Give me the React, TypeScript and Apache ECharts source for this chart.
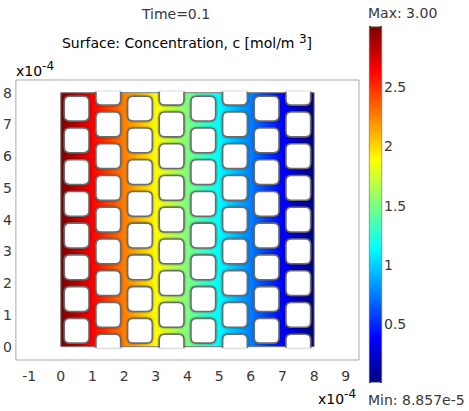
import React, { useEffect, useRef } from "react";
import * as echarts from "echarts";

// ---- texts ----
const titleLine1 = "Time=0.1";
const titleLine2 = "Surface: Concentration, c [mol/m ";
const titleSup = "3";
const scaleBase = "x10";
const scaleExp = "-4";
const maxLabel = "Max: 3.00";
const minLabel = "Min: 8.857e-5";

// ---- data ----
const cMax = 3.0;
// concentration profile across x (units of 1e-4 m)
const profileX = [0, 1, 2, 3, 4, 5, 6, 7, 8];
const profileC = [3.0, 2.63, 2.25, 1.88, 1.5, 1.12, 0.75, 0.37, 0.0001];
// geometry extents (units of 1e-4 m)
const domainX = [0, 8];
const domainY = [0, 8];
// hole centres: odd columns / even columns
const holeColsA = [0.5, 2.5, 4.5, 6.5];
const holeRowsA = [0.5, 1.5, 2.5, 3.5, 4.5, 5.5, 6.5, 7.5];
const holeColsB = [1.5, 3.5, 5.5, 7.5];
const holeRowsB = [0, 1, 2, 3, 4, 5, 6, 7, 8];
// colour bar tick labels
const colorbarTicks = [0.5, 1, 1.5, 2, 2.5];

// jet-like rainbow palette (low -> high)
const jetColors = ["#00007f", "#0000ff", "#007fff", "#00ffff", "#7fff7f", "#ffff00", "#ff7f00", "#ff0000", "#7f0000"];

const HOLE_W = 0.78;
const HOLE_H = 0.78;
const HOLE_R = 0.17;
const FONT = "DejaVu Sans";
const TEXT = "#383838";

function jet(v: number) {
  const t = Math.max(0, Math.min(1, v / cMax));
  return echarts.color.lerp(t, jetColors) as string;
}

function f(n: number) {
  return n.toFixed(2);
}

export default function App() {
  const ref = useRef<HTMLDivElement>(null);
  useEffect(() => {
    if (!ref.current) return;
    const chart = echarts.init(ref.current, undefined, { renderer: "svg" });

    const holes: number[][] = [];
    holeColsA.forEach((x) => holeRowsA.forEach((y) => holes.push([x, y])));
    holeColsB.forEach((x) => holeRowsB.forEach((y) => holes.push([x, y])));

    const intLabel = (v: number) => (Math.abs(v - Math.round(v)) < 1e-6 ? String(Math.round(v)) : "");

    const option: any = {
      animation: false,
      backgroundColor: "#ffffff",
      grid: [
        { left: 15, top: 80, width: 344, height: 280, show: true, borderColor: "#a9a9a9", borderWidth: 1, backgroundColor: "transparent" },
        { left: 369, top: 26.5, width: 13, height: 356, show: false },
      ],
      xAxis: [
        {
          type: "value", gridIndex: 0, min: -1.417, max: 9.417, splitNumber: 10,
          axisLine: { show: false }, axisTick: { show: false }, splitLine: { show: false },
          axisLabel: { formatter: intLabel, margin: 9, fontFamily: FONT, fontSize: 14, color: TEXT },
        },
        { type: "category", gridIndex: 1, data: [""], show: false },
      ],
      yAxis: [
        {
          type: "value", gridIndex: 0, min: -0.42, max: 8.4, splitNumber: 9,
          axisLine: { show: false }, axisTick: { show: false }, splitLine: { show: false },
          axisLabel: { formatter: intLabel, margin: 4, fontFamily: FONT, fontSize: 14, color: TEXT },
        },
        {
          type: "value", gridIndex: 1, min: 0, max: 3, interval: 0.5, position: "right",
          axisLine: { show: false }, splitLine: { show: false },
          axisTick: { show: true, inside: true, length: 2, lineStyle: { color: "#333", width: 1 } },
          axisLabel: {
            margin: 2, fontFamily: FONT, fontSize: 14, color: TEXT,
            formatter: (v: number) => (colorbarTicks.some((t) => Math.abs(t - v) < 1e-6) ? String(v) : ""),
            verticalAlign: "top", padding: [-6, 0, 0, 0],
          },
        },
        {
          type: "value", gridIndex: 1, min: 0, max: 3, interval: 0.5, position: "left",
          axisLine: { show: false }, splitLine: { show: false }, axisLabel: { show: false },
          axisTick: { show: true, inside: true, length: 2, lineStyle: { color: "#333", width: 1 } },
        },
      ],
      series: [
        {
          type: "custom", xAxisIndex: 0, yAxisIndex: 0, z: 2,
          data: [[domainX[0], domainY[0], domainX[1], domainY[1]]],
          renderItem: (params: any, api: any) => {
            const tl = api.coord([api.value(0), api.value(3)]);
            const br = api.coord([api.value(2), api.value(1)]);
            const xl = api.coord([profileX[0], 0])[0];
            const xr = api.coord([profileX[profileX.length - 1], 0])[0];
            const span = xr - xl;
            const stops = profileX.map((x, i) => ({
              offset: (api.coord([x, 0])[0] - xl) / span,
              color: jet(profileC[i]),
            }));
            return {
              type: "rect",
              shape: { x: tl[0], y: tl[1], width: br[0] - tl[0], height: br[1] - tl[1] },
              style: {
                fill: new echarts.graphic.LinearGradient(xl, 0, xr, 0, stops, true),
                stroke: "#7a7a7a", lineWidth: 1,
              },
            };
          },
        },
        {
          type: "custom", xAxisIndex: 0, yAxisIndex: 0, z: 3,
          data: holes,
          renderItem: (params: any, api: any) => {
            const cx = api.value(0), cy = api.value(1);
            const x0 = cx - HOLE_W / 2, x1 = cx + HOLE_W / 2;
            const y0 = cy - HOLE_H / 2, y1 = cy + HOLE_H / 2;
            const topOpen = y1 > domainY[1];
            const botOpen = y0 < domainY[0];
            const L = api.coord([x0, 0])[0];
            const R = api.coord([x1, 0])[0];
            let T = api.coord([0, y1])[1];
            let B = api.coord([0, y0])[1];
            if (topOpen) T = api.coord([0, domainY[1]])[1] - 1;
            if (botOpen) B = api.coord([0, domainY[0]])[1] + 1;
            const r = api.size([HOLE_R, 0])[0];
            let d: string;
            if (topOpen) {
              d = `M${f(L)},${f(T)} L${f(L)},${f(B - r)} Q${f(L)},${f(B)} ${f(L + r)},${f(B)} L${f(R - r)},${f(B)} Q${f(R)},${f(B)} ${f(R)},${f(B - r)} L${f(R)},${f(T)}`;
            } else if (botOpen) {
              d = `M${f(L)},${f(B)} L${f(L)},${f(T + r)} Q${f(L)},${f(T)} ${f(L + r)},${f(T)} L${f(R - r)},${f(T)} Q${f(R)},${f(T)} ${f(R)},${f(T + r)} L${f(R)},${f(B)}`;
            } else {
              d = `M${f(L + r)},${f(T)} L${f(R - r)},${f(T)} Q${f(R)},${f(T)} ${f(R)},${f(T + r)} L${f(R)},${f(B - r)} Q${f(R)},${f(B)} ${f(R - r)},${f(B)} L${f(L + r)},${f(B)} Q${f(L)},${f(B)} ${f(L)},${f(B - r)} L${f(L)},${f(T + r)} Q${f(L)},${f(T)} ${f(L + r)},${f(T)} Z`;
            }
            return {
              type: "path",
              shape: { pathData: d },
              style: { fill: "#ffffff", stroke: "#6c6c6c", lineWidth: 1.6, shadowBlur: 2, shadowColor: "rgba(0,0,0,0.45)" },
            };
          },
        },
        {
          type: "bar", xAxisIndex: 1, yAxisIndex: 1, z: 2,
          data: [cMax], barWidth: "100%",
          itemStyle: {
            color: new echarts.graphic.LinearGradient(0, 0, 0, 1,
              jetColors.map((c, i) => ({ offset: i / (jetColors.length - 1), color: jetColors[jetColors.length - 1 - i] }))),
            borderColor: "#666", borderWidth: 0.6,
          },
        },
      ],
      graphic: [
        { type: "text", x: 176, y: 14, style: { text: titleLine1, textAlign: "center", textVerticalAlign: "middle", fontFamily: FONT, fontSize: 14, fill: TEXT } },
        {
          type: "text", x: 187, y: 43,
          style: {
            text: `{a|${titleLine2}}{s|${titleSup}}{a|]}`,
            textAlign: "center", textVerticalAlign: "middle",
            rich: {
              a: { fontFamily: FONT, fontSize: 14, color: TEXT },
              s: { fontFamily: FONT, fontSize: 12, color: TEXT, padding: [0, 0, 9, 0] },
            },
          },
        },
        {
          type: "text", x: 16, y: 71,
          style: {
            text: `{a|${scaleBase}}{s|${scaleExp}}`, textAlign: "left", textVerticalAlign: "middle",
            rich: {
              a: { fontFamily: FONT, fontSize: 14, color: TEXT },
              s: { fontFamily: FONT, fontSize: 12, color: TEXT, padding: [0, 0, 10, 0] },
            },
          },
        },
        {
          type: "text", x: 318, y: 399,
          style: {
            text: `{a|${scaleBase}}{s|${scaleExp}}`, textAlign: "left", textVerticalAlign: "middle",
            rich: {
              a: { fontFamily: FONT, fontSize: 14, color: TEXT },
              s: { fontFamily: FONT, fontSize: 12, color: TEXT, padding: [0, 0, 10, 0] },
            },
          },
        },
        { type: "text", x: 368, y: 13, style: { text: maxLabel, textAlign: "left", textVerticalAlign: "middle", fontFamily: FONT, fontSize: 14, fill: TEXT } },
        { type: "text", x: 368, y: 400, style: { text: minLabel, textAlign: "left", textVerticalAlign: "middle", fontFamily: FONT, fontSize: 14, fill: TEXT } },
      ],
    };
    chart.setOption(option);
    return () => chart.dispose();
  }, []);
  return <div ref={ref} style={{ position: "fixed", left: 0, top: 0, width: 469, height: 411 }} />;
}
